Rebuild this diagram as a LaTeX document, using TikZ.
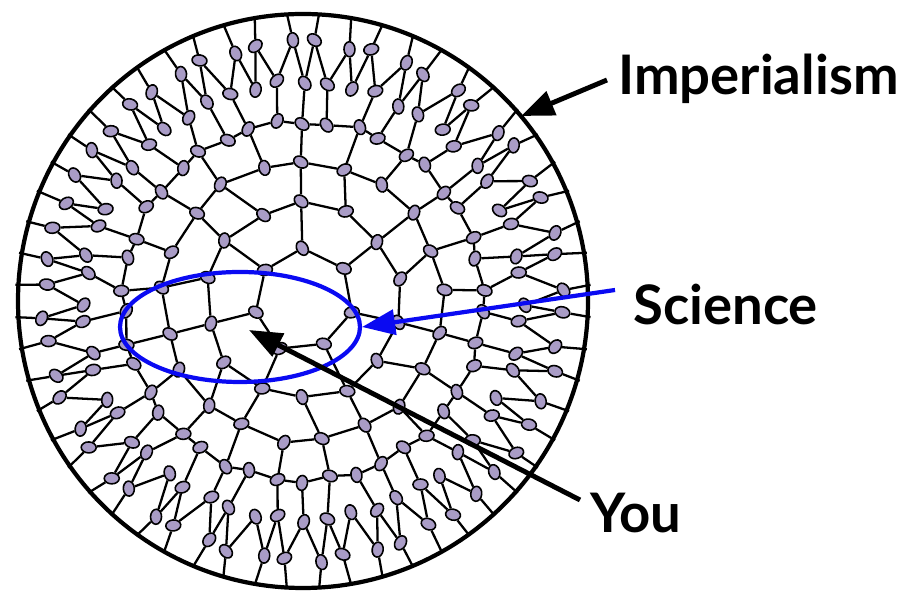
\documentclass[tikz,border=0pt]{standalone}
\usepackage{fontspec}
\setsansfont{Lato}
\usepackage{tikz}
\usetikzlibrary{positioning,calc,shapes.geometric,arrows.meta}
\definecolor{KnotLilac}{HTML}{A99CC6}
\definecolor{ScienceBlue}{HTML}{0A0AF2}

\tikzset{
  knot/.style={ellipse, draw=black, fill=KnotLilac, line width=0.9pt,
    minimum width=0.3cm, minimum height=0.22cm, inner sep=0pt},
  link/.style={line width=1.3pt, black},
  biglabel/.style={font=\fontsize{31}{36}\selectfont\bfseries\sffamily, anchor=base west, inner sep=0pt},
  pointer/.style={line width=2.8pt, -{Triangle[length=0.66cm,width=0.5cm]}},
}

\begin{document}
\begin{tikzpicture}
  \useasboundingbox (0,0) rectangle (18.12,11.84);
  \coordinate (hub) at (6.06,5.82);

  \begin{scope}[shift={(hub)}]
    %% rings of knots
    \foreach \rg/\n/\rad/\off [count=\k] in {a/7/1.0/0, b/14/1.95/0, c/21/2.8/0, d/42/3.6/0, e/56/4.38/0, f/56/5.18/0.5}{
      \pgfmathtruncatemacro{\last}{\n-1}
      \foreach \j in {0,...,\last}{
        \pgfmathsetmacro{\ang}{90+360/\n*(\j+\off)+1.1*sin(mod(\j*173,360)+\k*41)}
        \pgfmathsetmacro{\tilt}{\ang+60*sin(mod(\j*97,360)+\k*29)}
        \pgfmathsetmacro{\dist}{\rad+0.06*sin(mod(\j*131,360)+\k*67)}
        \node[knot, rotate=\tilt] (\rg-\j) at (\ang:\dist) {};
      }
    }
    %% links along the inner rings
    \foreach \rg/\n in {a/7, b/14, c/21, d/42}{
      \pgfmathtruncatemacro{\last}{\n-1}
      \foreach \j in {0,...,\last}{
        \pgfmathtruncatemacro{\nx}{mod(\j+1,\n)}
        \draw[link] (\rg-\j) -- (\rg-\nx);
      }
    }
    %% links between rings
    \foreach \i in {0,...,6}{
      \pgfmathtruncatemacro{\t}{2*\i}
      \draw[link] (a-\i) -- (b-\t);
    }
    \foreach \m in {0,...,6}{
      \pgfmathtruncatemacro{\s}{2*\m}
      \pgfmathtruncatemacro{\t}{3*\m}
      \pgfmathtruncatemacro{\u}{2*\m+1}
      \pgfmathtruncatemacro{\v}{3*\m+2}
      \draw[link] (b-\s) -- (c-\t) (b-\u) -- (c-\v);
    }
    \foreach \i in {0,...,20}{
      \pgfmathtruncatemacro{\t}{2*\i}
      \draw[link] (c-\i) -- (d-\t);
    }
    \foreach \m in {0,...,13}{
      \pgfmathtruncatemacro{\s}{3*\m}
      \pgfmathtruncatemacro{\t}{4*\m}
      \pgfmathtruncatemacro{\u}{3*\m+1}
      \pgfmathtruncatemacro{\v}{4*\m+1}
      \pgfmathtruncatemacro{\w}{3*\m+2}
      \pgfmathtruncatemacro{\x}{4*\m+3}
      \draw[link] (d-\s) -- (e-\t) (d-\u) -- (e-\v) (d-\w) -- (e-\x);
    }
    %% zigzag of the outer band
    \foreach \j in {0,...,55}{
      \pgfmathtruncatemacro{\nx}{mod(\j+1,56)}
      \draw[link] (e-\j) -- (f-\j) -- (e-\nx);
    }
    %% stubs to the rim
    \foreach \j in {0,...,55}{
      \coordinate (rim-\j) at ({90+360/56*(\j+0.5)}:5.76);
      \draw[link] (f-\j) -- (rim-\j);
    }
    %% rim
    \draw[line width=2.4pt] (0,0) ellipse (5.7cm and 5.74cm);
    \coordinate (imptip) at (40.3:5.72);
  \end{scope}

  %% science loop
  \node[ellipse, draw=ScienceBlue, line width=2.4pt, minimum width=4.8cm,
    minimum height=2.2cm, inner sep=0pt] (scienceloop) at (4.8,5.3) {};
  \coordinate (youtip) at (4.98,5.24);

  %% labels
  \node[biglabel] (imperialism) at (12.36,9.94) {Imperialism};
  \node[biglabel] (science) at (12.66,5.34) {Science};
  \node[biglabel] (you) at (11.8,1.18) {You};

  \coordinate (imptail) at (12.14,10.24);
  \coordinate (scitail) at (12.3,6.04);
  \coordinate (youtail) at (11.6,1.84);

  %% arrows
  \draw[pointer] (imptail) -- (imptip);
  \draw[pointer, ScienceBlue, line width=2.4pt] (scitail) -- (scienceloop.east);
  \draw[pointer] (youtail) -- (youtip);
\end{tikzpicture}
\end{document}
